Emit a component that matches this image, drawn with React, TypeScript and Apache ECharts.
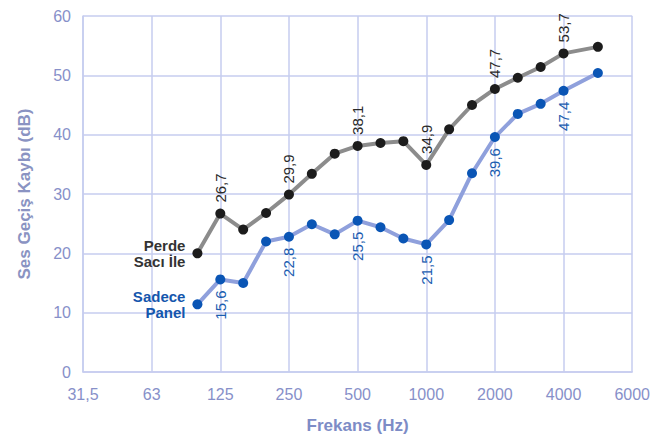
import React, { useEffect, useRef } from "react";
import * as echarts from "echarts";

const frequencies = [100, 125, 160, 200, 250, 315, 400, 500, 630, 800, 1000, 1250, 1600, 2000, 2500, 3150, 4000, 5000];
const perdeValues = [20, 26.7, 24, 26.8, 29.9, 33.4, 36.8, 38.1, 38.6, 38.9, 34.9, 40.9, 45, 47.7, 49.6, 51.4, 53.7, 54.8];
const panelValues = [11.4, 15.6, 15, 22, 22.8, 24.9, 23.2, 25.5, 24.4, 22.5, 21.5, 25.6, 33.5, 39.6, 43.5, 45.2, 47.4, 50.4];
const labeledFrequencies = [125, 250, 500, 1000, 2000, 4000];
const xTickLabels = ["31,5", "63", "125", "250", "500", "1000", "2000", "4000", "6000"];
const yMin = 0;
const yMax = 60;
const yStep = 10;
const seriesNames = ["Perde\nSacı İle", "Sadece\nPanel"];

// octave scale from 31.5 Hz up to 4000 Hz, linear between 4000 and 6000 Hz
function xScale(f: number): number {
  if (f <= 4000) return Math.round(3 * Math.log2(f / 31.5)) / 3;
  return 7 + (f - 4000) / 2000;
}

const fmt = (v: number) => String(v).replace(".", ",");

export default function App() {
  const ref = useRef<HTMLDivElement>(null);
  useEffect(() => {
    if (!ref.current) return;
    const chart = echarts.init(ref.current, null, { renderer: "svg" });
    const font = "'Liberation Sans', Arial, sans-serif";
    const gridColor = "#c6ccef";
    const axisText = "#8790c9";

    const build = (
      values: number[],
      name: string,
      labelColor: string,
      nameColor: string,
      above: boolean
    ) =>
      frequencies.map((f, i) => {
        const item: any = { value: [xScale(f), values[i]] };
        if (i === 0) {
          item.label = {
            show: true,
            position: "left",
            distance: 7,
            formatter: name,
            color: nameColor,
            fontWeight: "bold",
            fontSize: 15,
            lineHeight: 16,
            align: "right",
            verticalAlign: "middle",
            fontFamily: font,
          };
        } else if (labeledFrequencies.includes(f)) {
          item.label = {
            show: true,
            position: above ? "top" : "bottom",
            distance: 6,
            rotate: 90,
            align: above ? "left" : "right",
            verticalAlign: "middle",
            formatter: fmt(values[i]),
            color: labelColor,
            fontSize: 15,
            fontFamily: font,
          };
        }
        return item;
      });

    chart.setOption({
      animation: false,
      textStyle: { fontFamily: font },
      grid: { left: 67, right: 12, top: 8, bottom: 52, containLabel: false },
      xAxis: {
        type: "value",
        min: 0,
        max: 8,
        interval: 1,
        name: "Frekans (Hz)",
        nameLocation: "middle",
        nameGap: 45,
        nameTextStyle: { color: "#7d8cc6", fontSize: 17, fontWeight: "bold", fontFamily: font },
        axisLine: { show: true, lineStyle: { color: gridColor, width: 1.5 } },
        axisTick: { show: false },
        axisLabel: {
          color: axisText,
          fontSize: 16,
          margin: 14,
          fontFamily: font,
          formatter: (v: number) => xTickLabels[Math.round(v)] ?? "",
        },
        splitLine: { show: true, lineStyle: { color: gridColor, width: 1.5 } },
      },
      yAxis: {
        type: "value",
        min: yMin,
        max: yMax,
        interval: yStep,
        name: "Ses Geçiş Kaybı (dB)",
        nameLocation: "middle",
        nameGap: 50,
        nameTextStyle: { color: "#8a93c2", fontSize: 17, fontWeight: "bold", fontFamily: font },
        axisLine: { show: true, lineStyle: { color: gridColor, width: 1.5 } },
        axisTick: { show: false },
        axisLabel: { color: axisText, fontSize: 16, margin: 12, fontFamily: font },
        splitLine: { show: true, lineStyle: { color: gridColor, width: 1.5 } },
      },
      series: [
        {
          type: "line",
          name: seriesNames[0],
          data: build(perdeValues, seriesNames[0], "#2a2a2a", "#333333", true),
          symbol: "circle",
          symbolSize: 10,
          lineStyle: { color: "#8c8c8c", width: 4 },
          itemStyle: { color: "#1c1c1c" },
          z: 3,
        },
        {
          type: "line",
          name: seriesNames[1],
          data: build(panelValues, seriesNames[1], "#1a5db0", "#1456ad", false),
          symbol: "circle",
          symbolSize: 10,
          lineStyle: { color: "#8fa0dc", width: 4 },
          itemStyle: { color: "#0a55b5" },
          z: 2,
        },
      ],
    });
    return () => chart.dispose();
  }, []);
  return <div ref={ref} style={{ width: 645, height: 431 }} />;
}
